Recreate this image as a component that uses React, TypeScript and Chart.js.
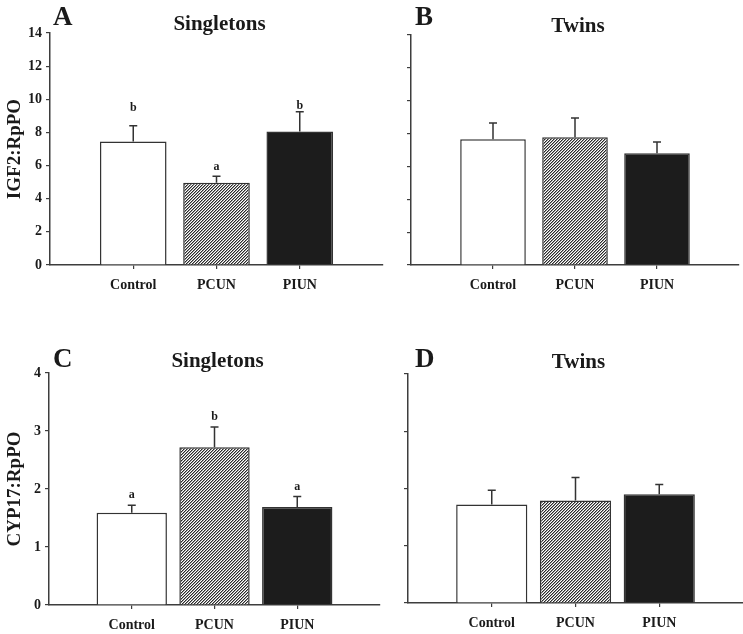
import React, { useEffect, useRef } from 'react';
import { Chart, registerables } from 'chart.js';

Chart.register(...registerables);

// ---- data ----
const categories = ['Control', 'PCUN', 'PIUN'];

const igf2SingletonMeans = [7.45, 4.97, 8.05];
const igf2SingletonSE = [0.95, 0.38, 1.2];
const igf2SingletonLetters = ['b', 'a', 'b'];
const igf2SingletonLetterY = [9.47, 5.9, 9.6];

const igf2TwinMeans = [7.65, 7.78, 6.8];
const igf2TwinSE = [1.0, 1.17, 0.68];

const cyp17SingletonMeans = [1.59, 2.72, 1.69];
const cyp17SingletonSE = [0.13, 0.35, 0.18];
const cyp17SingletonLetters = ['a', 'b', 'a'];
const cyp17SingletonLetterY = [1.9, 3.25, 2.04];

const cyp17TwinMeans = [1.72, 1.79, 1.9];
const cyp17TwinSE = [0.25, 0.4, 0.17];

const igf2Ticks = [0, 2, 4, 6, 8, 10, 12, 14];
const cyp17Ticks = [0, 1, 2, 3, 4];

const FONT = "'Liberation Serif', 'Times New Roman', serif";
const AXIS = '#3d3d3d';
const TEXT = '#1a1a1a';

function makeHatch(): CanvasPattern | string {
  const n = 3;
  const c = document.createElement('canvas');
  c.width = n;
  c.height = n;
  const g = c.getContext('2d');
  if (!g) return '#777';
  g.fillStyle = '#ffffff';
  g.fillRect(0, 0, n, n);
  for (let yy = 0; yy < n; yy++) {
    const xd = (n - 1 - yy + n) % n;
    const xg = (n - yy) % n;
    g.fillStyle = '#2a2a2a';
    g.fillRect(xd, yy, 1, 1);
    g.fillStyle = '#9a9a9a';
    g.fillRect(xg, yy, 1, 1);
  }
  return g.createPattern(c, 'repeat') || '#777';
}

type Panel = {
  left: number;
  top: number;
  w: number;
  h: number;
  padTop: number;
  padRight: number;
  yWidth: number;
  xHeight: number;
  ticks: number[];
  showYLabels: boolean;
  yTitle: string;
  letter: string;
  title: string;
  titleBaseline: number;
  letterBaseline: number;
  letterX: number;
  barPct: number;
  means: number[];
  se: number[];
  letters: string[];
  letterY: number[];
};

const panels: Panel[] = [
  {
    left: 0, top: 0, w: 390, h: 300, padTop: 33, padRight: 7, yWidth: 50, xHeight: 35,
    ticks: igf2Ticks, showYLabels: true, yTitle: 'IGF2:RpPO', letter: 'A', title: 'Singletons',
    titleBaseline: 30, letterBaseline: 25, letterX: 53, barPct: 0.8,
    means: igf2SingletonMeans, se: igf2SingletonSE, letters: igf2SingletonLetters, letterY: igf2SingletonLetterY,
  },
  {
    left: 390, top: 0, w: 353, h: 300, padTop: 35, padRight: 4, yWidth: 21, xHeight: 35,
    ticks: igf2Ticks, showYLabels: false, yTitle: '', letter: 'B', title: 'Twins',
    titleBaseline: 32, letterBaseline: 25, letterX: 25, barPct: 0.8,
    means: igf2TwinMeans, se: igf2TwinSE, letters: [], letterY: [],
  },
  {
    left: 0, top: 300, w: 390, h: 334, padTop: 73, padRight: 10, yWidth: 49, xHeight: 29,
    ticks: cyp17Ticks, showYLabels: true, yTitle: 'CYP17:RpPO', letter: 'C', title: 'Singletons',
    titleBaseline: 67, letterBaseline: 67, letterX: 53, barPct: 0.85,
    means: cyp17SingletonMeans, se: cyp17SingletonSE, letters: cyp17SingletonLetters, letterY: cyp17SingletonLetterY,
  },
  {
    left: 390, top: 300, w: 353, h: 334, padTop: 74, padRight: 0, yWidth: 18, xHeight: 31,
    ticks: cyp17Ticks, showYLabels: false, yTitle: '', letter: 'D', title: 'Twins',
    titleBaseline: 68, letterBaseline: 67, letterX: 25, barPct: 0.85,
    means: cyp17TwinMeans, se: cyp17TwinSE, letters: [], letterY: [],
  },
];

function PanelChart({ p }: { p: Panel }) {
  const ref = useRef<HTMLCanvasElement | null>(null);
  useEffect(() => {
    if (!ref.current) return;
    const hatch = makeHatch();
    const labels = ['', ...categories, ''];
    const data = [null, ...p.means, null];
    const yMax = p.ticks[p.ticks.length - 1];
    const step = p.ticks[1] - p.ticks[0];

    const annot = {
      id: 'annot' + p.letter,
      afterDatasetsDraw(chart: any) {
        const { ctx, scales } = chart;
        const x = scales.x;
        const y = scales.y;
        ctx.save();
        ctx.strokeStyle = '#333';
        ctx.lineWidth = 1.5;
        p.means.forEach((m, i) => {
          const px = x.getPixelForValue(i + 1);
          const y0 = y.getPixelForValue(m);
          const y1 = y.getPixelForValue(m + p.se[i]);
          ctx.beginPath();
          ctx.moveTo(px, y0);
          ctx.lineTo(px, y1);
          ctx.moveTo(px - 4, y1);
          ctx.lineTo(px + 4, y1);
          ctx.stroke();
        });
        ctx.fillStyle = TEXT;
        ctx.font = `bold 12px ${FONT}`;
        ctx.textAlign = 'center';
        ctx.textBaseline = 'middle';
        p.letters.forEach((l, i) => {
          ctx.fillText(l, x.getPixelForValue(i + 1), y.getPixelForValue(p.letterY[i]));
        });
        ctx.restore();
      },
      afterDraw(chart: any) {
        const { ctx, chartArea } = chart;
        ctx.save();
        ctx.fillStyle = TEXT;
        ctx.textBaseline = 'alphabetic';
        ctx.textAlign = 'left';
        ctx.font = `bold 27px ${FONT}`;
        ctx.fillText(p.letter, p.letterX, p.letterBaseline);
        ctx.textAlign = 'center';
        ctx.font = `bold 21px ${FONT}`;
        ctx.fillText(p.title, (chartArea.left + chartArea.right) / 2 + 3, p.titleBaseline);
        if (p.yTitle) {
          ctx.translate(15, (chartArea.top + chartArea.bottom) / 2);
          ctx.rotate(-Math.PI / 2);
          ctx.textBaseline = 'middle';
          ctx.font = `bold 19px ${FONT}`;
          ctx.fillText(p.yTitle, 0, 0);
        }
        ctx.restore();
      },
    };

    const chart = new Chart(ref.current, {
      type: 'bar',
      data: {
        labels,
        datasets: [
          {
            data,
            backgroundColor: ['#ffffff', '#ffffff', hatch, '#1c1c1c', '#ffffff'],
            borderColor: '#333333',
            borderWidth: 1.5,
            categoryPercentage: 1,
            barPercentage: p.barPct,
          } as any,
        ],
      },
      options: {
        responsive: false,
        animation: false,
        devicePixelRatio: 1,
        layout: { padding: { top: p.padTop, right: p.padRight, left: 0, bottom: 0 } },
        plugins: { legend: { display: false }, tooltip: { enabled: false }, title: { display: false } },
        scales: {
          x: {
            type: 'category',
            offset: false,
            afterFit: (s: any) => {
              s.height = p.xHeight;
              s.paddingLeft = 0;
              s.paddingRight = 0;
            },
            grid: {
              offset: false,
              drawOnChartArea: false,
              drawTicks: true,
              tickLength: 4,
              lineWidth: 1.2,
              color: (c: any) => (c.index === 0 || c.index === labels.length - 1 ? 'rgba(0,0,0,0)' : AXIS),
            },
            border: { display: true, color: AXIS, width: 1.5 },
            ticks: {
              autoSkip: false,
              maxRotation: 0,
              minRotation: 0,
              padding: 8,
              color: TEXT,
              font: { family: FONT, size: 14, weight: 'bold' },
            },
          },
          y: {
            min: 0,
            max: yMax,
            afterFit: (s: any) => {
              s.width = p.yWidth;
            },
            grid: { drawOnChartArea: false, drawTicks: true, tickLength: 4, color: AXIS, lineWidth: 1.2 },
            border: { display: true, color: AXIS, width: 1.5 },
            ticks: {
              stepSize: step,
              padding: 4,
              color: TEXT,
              font: { family: FONT, size: 14, weight: 'bold' },
              callback: (v: any) => (p.showYLabels ? String(v) : ''),
            },
          },
        },
      } as any,
      plugins: [annot],
    });
    return () => chart.destroy();
  }, [p]);
  return (
    <canvas
      ref={ref}
      width={p.w}
      height={p.h}
      style={{ position: 'absolute', left: p.left, top: p.top, width: p.w, height: p.h }}
    />
  );
}

export default function App() {
  return (
    <div style={{ position: 'absolute', left: 0, top: 0, width: 743, height: 634, background: '#ffffff' }}>
      {panels.map((p) => (
        <PanelChart key={p.letter} p={p} />
      ))}
    </div>
  );
}
